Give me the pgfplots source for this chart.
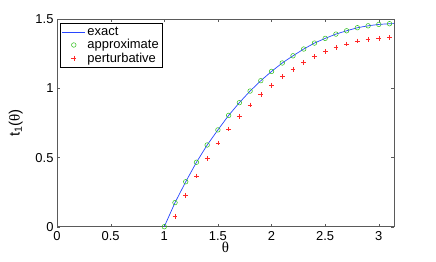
\documentclass[border=0pt]{standalone}
\usepackage{fontspec}
\setmainfont{Liberation Sans}
\newfontfamily\symf{Liberation Serif}
\usepackage{pgfplots}
\pgfplotsset{compat=1.18}
\definecolor{mblue}{RGB}{40,70,255}
\definecolor{mgreen}{RGB}{40,190,20}
\definecolor{mred}{RGB}{255,40,40}
\definecolor{axgray}{RGB}{90,90,90}

\begin{document}
\begin{tikzpicture}
\useasboundingbox (0,0) rectangle (436bp,262bp);
\begin{axis}[
  at={(57bp,35.3bp)}, anchor=south west,
  scale only axis, width=337bp, height=207.4bp,
  xmin=0, xmax=3.1416, ymin=0, ymax=1.5,
  xtick={0,0.5,...,3}, ytick={0,0.5,1,1.5},
  tick align=inside, tick pos=both,
  major tick length=3bp,
  axis line style={axgray, line width=0.8pt},
  tick style={axgray},
  /pgf/number format/assume math mode=true,
  tick label style={font=\fontsize{13}{14}\selectfont},
  xticklabel style={yshift=-1bp},
  xlabel={{\symf θ}}, ylabel={t\textsubscript{1}({\symf θ})},
  label style={font=\fontsize{15}{17}\selectfont},
  xlabel style={yshift=5bp},
  ylabel style={yshift=6bp},
  legend image code/.code={%
    \draw[mark repeat=2,mark phase=2,#1] plot coordinates {(0cm,0cm)(0.4cm,0cm)(0.8cm,0cm)};},
  legend style={at={(0.01,0.98)}, anchor=north west, font=\fontsize{13}{14}\selectfont,
    line width=0.5pt, inner sep=1.5pt, row sep=-1.5pt,
    legend cell align=left},
]
\addplot[color=mblue, line width=0.7pt] coordinates {
(1.0,0)(1.1,0.174)(1.2,0.325)(1.3,0.466)(1.4,0.591)(1.5,0.700)(1.6,0.805)
(1.7,0.897)(1.8,0.981)(1.9,1.056)(2.0,1.123)(2.1,1.184)(2.2,1.236)(2.3,1.285)
(2.4,1.328)(2.5,1.362)(2.6,1.393)(2.7,1.417)(2.8,1.439)(2.9,1.453)(3.0,1.463)
(3.1,1.468)(3.1416,1.469)};
\addlegendentry{exact}
\addplot[only marks, color=mgreen, mark=o, mark size=2.3pt, line width=0.5pt] coordinates {
(1.0,0)(1.1,0.174)(1.2,0.325)(1.3,0.466)(1.4,0.591)(1.5,0.700)(1.6,0.805)
(1.7,0.897)(1.8,0.981)(1.9,1.056)(2.0,1.123)(2.1,1.184)(2.2,1.236)(2.3,1.285)
(2.4,1.328)(2.5,1.362)(2.6,1.393)(2.7,1.417)(2.8,1.439)(2.9,1.453)(3.0,1.463)
(3.1,1.468)};
\addlegendentry{approximate}
\addplot[only marks, color=mred, mark=+, mark size=2.4pt, line width=0.6pt] coordinates {
(1.1,0.075)(1.2,0.227)(1.3,0.367)(1.4,0.492)(1.5,0.605)(1.6,0.706)(1.7,0.798)
(1.8,0.880)(1.9,0.954)(2.0,1.022)(2.1,1.085)(2.2,1.138)(2.3,1.189)(2.4,1.229)
(2.5,1.265)(2.6,1.294)(2.7,1.321)(2.8,1.343)(2.9,1.355)(3.0,1.362)(3.1,1.369)};
\addlegendentry{perturbative}
\end{axis}
\end{tikzpicture}
\end{document}
